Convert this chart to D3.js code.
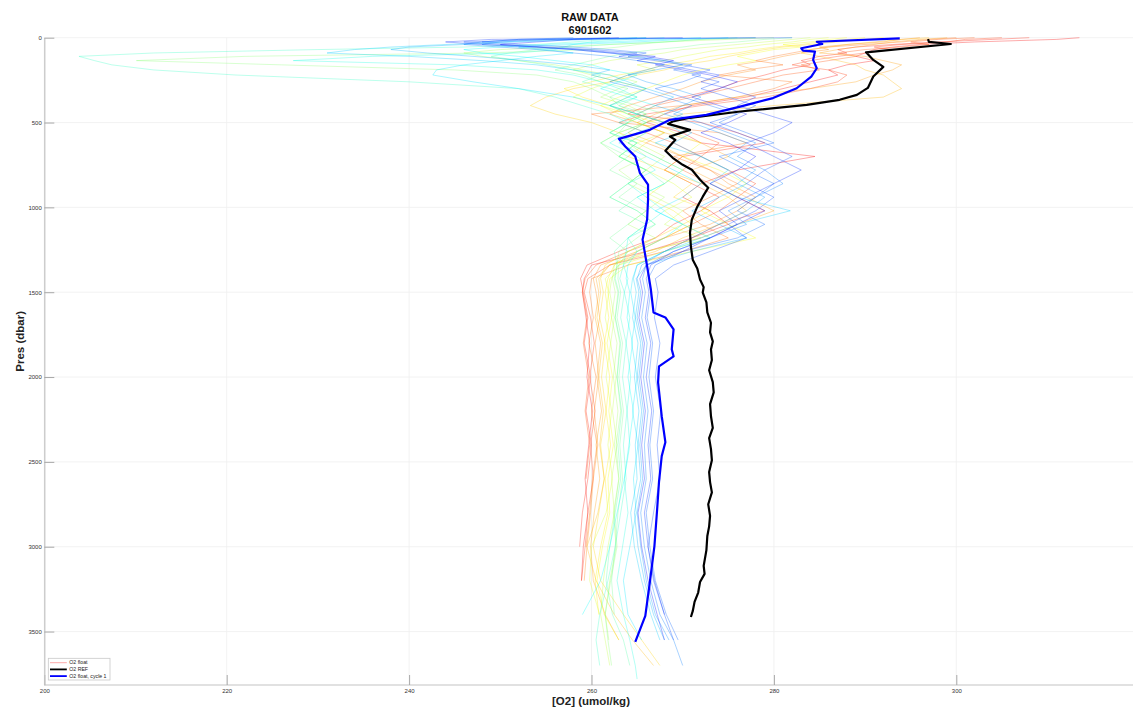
<!DOCTYPE html>
<html>
<head>
<meta charset="utf-8">
<script src="https://cdn.jsdelivr.net/npm/d3@7"></script>
<style>
  html, body { margin: 0; padding: 0; background: #ffffff; }
  svg { display: block; font-family: "Liberation Sans", Arial, Helvetica, sans-serif; }
</style>
</head>
<body>
<svg id="chart" width="1133" height="712"></svg>
<script>
// ---- Titles and labels ----
const titleLines = ["RAW DATA", "6901602"];
const xLabel = "[O2] (umol/kg)";
const yLabel = "Pres (dbar)";
const legendLabels = ["O2 float", "O2 REF", "O2 float, cycle 1"];

// ---- Axis ticks ----
const xTicks = [200, 220, 240, 260, 280, 300];
const yTicks = [0, 500, 1000, 1500, 2000, 2500, 3000, 3500];

// ---- Common pressure levels (dbar) for the float profiles ----
const pressure = [0, 10, 25, 40, 55, 70, 90, 110, 135, 160,
  190, 220, 260, 300, 350, 400, 450, 500, 560, 620,
  700, 780, 860, 940, 1020, 1100, 1180, 1260, 1340, 1420,
  1500, 1650, 1800, 2000, 2200, 2400, 2600, 2800, 3000, 3200,
  3400, 3550, 3700, 3780];

// ---- Float O2 profiles (umol/kg) on the pressure levels above ----
const prof01 = [313.5, 311, 302, 296, 293, 291, 290, 289, 291, 288,
  286, 287, 284, 281, 277, 271, 268, 266, 270, 272,
  284.5, 276, 272, 270, 273, 275, 271, 266, 260, 259.2,
  259.0, 259.4, 259.8, 259.5, 260.1, 259.7, 259.3, 259.6, 259.1, 258.9];
const prof02 = [308, 304, 298, 293, 289, 287, 288, 285, 283, 284,
  281, 279, 276, 274, 270, 266, 264, 272, 276, 279,
  270, 268, 271, 274, 272, 269, 267, 263, 259.5, 258.8,
  259.1, 259.6, 259.2, 259.9, 259.4, 260.0, 259.6, 259.0, 258.7];
const prof03 = [305, 301, 299, 294, 291, 293, 290, 287, 284, 282,
  286, 288, 287, 284, 279, 272, 266, 263, 266, 269,
  272, 275, 278, 276, 279, 274, 271, 268, 262, 259.6,
  259.2, 259.9, 260.3, 259.8, 260.4, 259.9, 260.2, 259.6, 259.3, 258.9];
const prof04 = [302, 298, 295, 297, 294, 290, 287, 289, 286, 283,
  285, 281, 278, 275, 271, 267, 265, 268, 271, 274,
  272, 270, 273, 276, 274, 271, 268, 264, 260.5, 259.3,
  259.0, 259.5, 259.1, 259.7, 259.3, 259.8, 259.4];
const prof05 = [300, 297, 294, 290, 286, 284, 282, 280, 278, 281,
  277, 274, 282, 280, 276, 270, 260, 263, 274, 277,
  269, 273, 276, 273, 270, 272, 275, 270, 264, 260,
  259.8, 260.2, 259.7, 260.5, 260.0, 260.6, 260.1, 259.8, 259.4];
const prof06 = [296, 294, 292, 288, 285, 286, 283, 281, 279, 276,
  278, 275, 272, 270, 267, 264, 262, 265, 268, 266,
  270, 273, 275, 278, 276, 273, 268, 265, 261, 260.2,
  260.5, 260.9, 260.4, 260.8, 260.3, 260.7, 260.2, 259.9, 259.5, 259.2];
const prof07 = [299, 296, 293, 291, 289, 287, 285, 290, 292, 294,
  293, 291, 289, 284, 276, 270, 267, 265, 268, 272,
  275, 271, 274, 277, 280, 276, 272, 266, 262, 260.5,
  260.8, 260.4, 261.0, 260.6, 261.1, 260.5, 260.9, 260.3, 259.9, 260.2,
  261.5, 263.0];
const prof08 = [297, 294, 291, 288, 286, 284, 283, 285, 287, 289,
  290, 292, 293, 294, 292, 280, 270, 266, 264, 267,
  270, 268, 272, 275, 277, 274, 270, 267, 262, 260.8,
  261.0, 260.6, 261.2, 260.8, 261.3, 260.9, 261.4, 260.7, 259.5, 260.5,
  262.5, 264.5, 266.8];
const prof09 = [292, 290, 287, 284, 281, 279, 277, 275, 273, 270,
  268, 265, 262, 258, 255, 253.3, 256, 260, 263, 266,
  264, 268, 271, 269, 273, 270, 267, 264, 261.5, 261.0,
  261.3, 260.9, 261.5, 261.1, 261.6, 261.0, 261.4, 260.8, 260.2, 261.0,
  263.5, 265.5, 267.5];
const prof10 = [290, 288, 285, 283, 280, 278, 276, 273, 271, 268,
  266, 263, 260, 257, 259, 262, 265, 268, 266, 264,
  267, 270, 268, 266, 269, 271, 268, 265, 262.5, 261.8,
  261.5, 261.9, 261.4, 262.0, 261.6, 262.1, 261.5, 261.8, 261.0, 260.4,
  260.8];
const prof11 = [288, 286, 284, 281, 283, 280, 278, 276, 278, 275,
  272, 270, 268, 266, 263, 261, 264, 267, 269, 272,
  270, 274, 277, 275, 272, 275, 278, 271, 264, 262,
  261.8, 262.2, 261.7, 262.3, 261.9, 262.4, 261.8, 262.0, 261.2, 260.6,
  261.4, 263.0];
const prof12 = [286, 284, 282, 279, 277, 274, 272, 270, 268, 265,
  267, 264, 262, 260, 258, 261, 263, 265, 268, 265,
  263, 266, 269, 271, 268, 270, 273, 268, 263, 261.5,
  261.9, 261.5, 262.1, 261.6, 262.2, 261.8, 262.3, 261.6, 260.0, 259.8,
  260.9];
const prof13 = [284, 282, 279, 276, 273, 270, 268, 265, 262, 260,
  258, 260, 263, 266, 264, 262, 264, 266, 263, 265,
  268, 266, 264, 267, 270, 268, 272, 266, 263, 262.2,
  262.0, 262.5, 262.1, 262.7, 262.3, 262.8, 262.2, 262.5, 261.8, 261.3,
  261.0, 261.5, 262.0];
const prof14 = [280, 275, 268, 262, 256, 250, 246, 248, 252, 256,
  259, 262, 265, 263, 261, 264, 266, 264, 262, 264,
  266, 263, 265, 268, 266, 264, 267, 264, 262.5, 262.3,
  262.6, 262.2, 262.8, 262.4, 262.9, 262.5, 263.0, 262.4, 262.7, 262.0,
  261.5, 261.9];
const prof15 = [278, 272, 268, 265, 263, 260, 248, 222, 210.1, 226,
  245, 254, 258, 260, 262, 263, 265, 264, 263, 261,
  263, 266, 264, 262, 265, 267, 265, 263, 262.8, 262.5,
  262.9, 262.6, 263.1, 262.8, 263.2, 262.7, 263.0, 262.5, 262.8, 262.1,
  261.5, 261.8, 262.2];
const prof16 = [282, 279, 276, 272, 270, 267, 264, 262, 260, 258,
  256, 259, 261, 264, 262, 265, 268, 266, 263, 261,
  264, 262, 265, 263, 266, 264, 262, 264, 263.0, 262.9,
  263.2, 262.8, 263.4, 263.0, 263.5, 263.1, 263.4, 262.9, 262.6, 262.2,
  262.5];
const prof17 = [276, 272, 268, 262, 258, 254, 251, 249, 252, 255,
  258, 261, 259, 262, 265, 263, 266, 264, 262, 265,
  263, 266, 268, 265, 263, 266, 264, 262.5, 262.8, 262.6,
  263.0, 262.6, 263.2, 262.8, 263.3, 262.9, 263.2, 262.6, 262.0, 261.6,
  262.3, 263.5, 264.2];
const prof18 = [266, 262, 258, 254, 246, 230, 212, 203.8, 205.5, 207.4,
  212, 221, 240, 252, 256, 259, 262, 264, 262, 265,
  263, 266, 264, 262, 265, 267, 264, 265, 263.5, 263.1,
  263.6, 263.2, 263.8, 263.4, 263.9, 263.5, 263.8, 263.2, 262.6, 261.8,
  260.9, 260.5, 260.9];
const prof19 = [268, 264, 260, 258, 257, 256, 252, 236, 227.3, 245,
  254, 258, 261, 263, 265, 262, 264, 266, 264, 262,
  265, 267, 264, 266, 268, 266, 264, 263.8, 263.5, 264.0,
  263.6, 264.2, 263.8, 264.3, 263.9, 264.2, 263.6, 264.0, 263.4, 262.8,
  263.5, 264.2, 264.8, 265.0];
const prof20 = [272, 268, 262, 255, 250, 246, 248, 252, 256, 260,
  262, 265, 263, 261, 264, 267, 265, 263, 266, 264,
  267, 270, 268, 265, 267, 270, 268, 265, 264.0, 263.8,
  264.2, 263.9, 264.5, 264.0, 264.6, 264.1, 263.6, 262.8, 262.0, 261.0,
  259.0];
const prof21 = [275, 270, 265, 258, 252, 255, 258, 254, 250, 246,
  243, 242.6, 247, 252, 258, 262, 265, 268, 265, 263,
  266, 269, 272, 270, 267, 270, 273, 268, 265, 264.5,
  264.3, 264.8, 264.4, 265.0, 264.5, 265.1, 264.6, 264.9, 264.2, 263.5,
  264.0, 265.5];
const prof22 = [265, 258, 250, 244, 238, 234, 231, 240, 248, 254,
  258, 262, 264, 266, 264, 262, 265, 268, 270, 267,
  272, 275, 273, 276, 281.8, 276, 272, 268, 265, 264.6,
  264.9, 264.5, 265.1, 264.7, 265.2, 264.8, 265.0, 264.3, 264.7, 265.5,
  266.5, 267.5];
const prof23 = [266, 260, 252, 246, 240, 238, 242, 247, 253, 258,
  262, 260, 263, 266, 269, 267, 270, 268, 271, 269,
  272, 275, 277, 274, 271, 274, 277, 271, 266, 264.9,
  265.2, 264.8, 265.4, 265.0, 265.5, 265.1, 265.4, 264.7, 265.1, 265.8,
  266.8, 268.0];
const prof24 = [262, 255, 250, 248, 252, 258, 262, 265, 268, 270,
  267, 264, 266, 269, 272, 270, 268, 271, 274, 277,
  275, 278, 276, 279, 277, 274, 271, 268, 265.5, 265.0,
  265.4, 265.0, 265.6, 265.2, 265.7, 265.3, 265.6, 265.0, 265.4, 266.0,
  267.0, 268.5];
const prof25 = [258, 252, 248, 246, 250, 254, 258, 262, 265, 268,
  266, 264, 262, 265, 268, 271, 269, 272, 275, 278,
  276, 279, 281, 278, 275, 277, 273, 269, 266, 265.6,
  265.9, 265.5, 266.1, 265.7, 266.2, 265.8, 266.0, 265.4, 265.8, 266.5,
  267.5, 269.0, 270.0];
const prof26 = [278, 252, 248, 252, 258, 262, 266, 264, 268, 271,
  269, 272, 270, 267, 270, 273, 276, 274, 277, 280,
  274, 277, 280, 278, 276, 279, 276, 270, 267, 266.2,
  266.5, 266.1, 266.7, 266.3, 266.8, 266.4, 266.7, 266.0, 266.4, 267.0,
  268.2, 269.5];
const prof27 = [282, 256, 246, 250, 255, 260, 265, 263, 267, 270,
  273, 271, 274, 272, 275, 278, 276, 273, 276, 279,
  282, 279, 277, 280, 278, 275, 277, 273, 269, 267.0,
  267.3, 266.9, 267.5, 267.0, 267.6, 267.2, 267.5, 266.8, 266.2, 266.8,
  268.0, 269.0];
const prof28 = [270, 249, 244, 248, 254, 259, 263, 267, 265, 268,
  271, 274, 272, 275, 278, 276, 279, 282, 280, 277,
  280, 283, 280, 277, 274, 276, 273, 269, 266.5, 266.0,
  266.3, 265.9, 266.5, 266.0, 266.6, 266.2, 266.5, 265.8, 266.2, 266.9,
  268.0];
const prof29 = [263, 258, 254, 250, 254, 258, 262, 266, 269, 267,
  270, 273, 276, 274, 271, 274, 277, 275, 272, 275,
  278, 276, 273, 276, 279, 276, 273, 270, 266, 265.3,
  265.6, 265.2, 265.8, 265.4, 265.9, 265.5, 265.8, 265.1, 265.5, 266.2,
  267.2, 268.0];

const floatProfiles = [prof01, prof02, prof03, prof04, prof05, prof06, prof07, prof08,
  prof09, prof10, prof11, prof12, prof13, prof14, prof15, prof16, prof17, prof18,
  prof19, prof20, prof21, prof22, prof23, prof24, prof25, prof26, prof27, prof28, prof29];

// ---- Reference profile ----
const refPres = [8, 25, 37, 86, 131, 172, 229, 296, 337, 366,
  396, 435, 472, 494, 508, 543, 582, 602, 666, 708,
  749, 778, 837, 884, 937, 996, 1072, 1149, 1231, 1308,
  1360, 1425, 1470, 1502, 1560, 1619, 1680, 1737, 1790, 1837,
  1900, 1960, 2030, 2090, 2160, 2231, 2300, 2360, 2425, 2490,
  2560, 2619, 2680, 2750, 2818, 2880, 2937, 3020, 3113, 3160,
  3208, 3270, 3325, 3380, 3414];
const refO2 = [296.9, 297.0, 299.4, 290.1, 290.9, 292.0, 290.9, 290.3, 289.1, 287.2,
  283.6, 276.3, 270.8, 268.9, 268.4, 270.8, 268.6, 269.2, 268.1, 268.9,
  270.0, 271.0, 271.9, 272.8, 272.2, 271.6, 271.0, 270.8, 270.9, 271.1,
  271.6, 271.9, 272.3, 272.2, 272.6, 272.7, 273.1, 273.0, 273.3, 273.1,
  273.2, 272.9, 273.3, 273.4, 273.0, 273.1, 273.3, 272.9, 273.1, 273.2,
  272.9, 273.0, 273.2, 272.8, 273.0, 272.9, 272.7, 272.6, 272.3, 272.4,
  271.9, 271.7, 271.3, 271.1, 270.9];

// ---- Float cycle 1 ----
const cyc1Pres = [4, 24, 37, 62, 76, 82, 131, 180, 229, 298,
  356, 406, 455, 484, 543, 561, 596, 641, 700, 796,
  866, 955, 1072, 1190, 1347, 1480, 1619, 1649, 1719, 1837,
  1878, 1937, 2031, 2231, 2384, 2466, 2619, 2778, 2996, 3208,
  3408, 3561];
const cyc1O2 = [293.8, 284.7, 285.3, 283.0, 283.2, 284.5, 284.3, 284.7, 284.1, 282.5,
  279.9, 276.3, 272.6, 268.6, 266.4, 265.3, 263.0, 263.7, 264.8, 265.3,
  266.2, 266.2, 266.1, 265.6, 266.1, 266.5, 266.8, 268.1, 269.0, 268.8,
  269.0, 267.4, 267.3, 267.7, 268.1, 267.7, 267.4, 267.2, 266.9, 266.4,
  265.9, 264.8];

// ---- Layout ----
const W = 1133, H = 712;
const plot = { left: 44.3, right: 1138.7, top: 37.7, bottom: 685 };

const svg = d3.select("#chart");

const x = d3.scaleLinear().domain([200, 320]).range([plot.left, plot.right]);
const y = d3.scaleLinear().domain([0, 3815]).range([plot.top, plot.bottom]);

// jet colour map
const jet = d3.scaleLinear()
  .domain([0, 0.125, 0.375, 0.625, 0.875, 1])
  .range(["#00008f", "#0000ff", "#00ffff", "#ffff00", "#ff0000", "#800000"])
  .interpolate(d3.interpolateRgb);
const nProf = floatProfiles.length;
const profColor = i => jet(0.88 - i * (0.74 / (nProf - 1)));

// grid
const grid = svg.append("g").attr("class", "grid");
grid.selectAll("line.vx").data(xTicks).join("line")
  .attr("x1", d => x(d)).attr("x2", d => x(d))
  .attr("y1", plot.top).attr("y2", plot.bottom)
  .attr("stroke", "#efefef").attr("stroke-width", 0.8);
grid.selectAll("line.hy").data(yTicks).join("line")
  .attr("x1", plot.left).attr("x2", W)
  .attr("y1", d => y(d)).attr("y2", d => y(d))
  .attr("stroke", "#efefef").attr("stroke-width", 0.8);

// profiles
const line = d3.line().x(d => x(d[1])).y(d => y(d[0]));
const gLines = svg.append("g").attr("class", "profiles");
floatProfiles.forEach((vals, i) => {
  const pts = vals.map((v, k) => [pressure[k], v]);
  gLines.append("path")
    .datum(pts)
    .attr("d", line)
    .attr("fill", "none")
    .attr("stroke", profColor(i))
    .attr("stroke-opacity", 0.42)
    .attr("stroke-width", 0.8)
    .attr("stroke-linejoin", "round");
});

// reference profile
svg.append("path")
  .datum(refPres.map((p, k) => [p, refO2[k]]))
  .attr("d", line)
  .attr("fill", "none")
  .attr("stroke", "#000000")
  .attr("stroke-width", 2.2)
  .attr("stroke-linejoin", "round");

// cycle 1
svg.append("path")
  .datum(cyc1Pres.map((p, k) => [p, cyc1O2[k]]))
  .attr("d", line)
  .attr("fill", "none")
  .attr("stroke", "#0000ff")
  .attr("stroke-width", 2.2)
  .attr("stroke-linejoin", "round");

// axes
const tickFmt = d3.format("d");
const xAxis = svg.append("g")
  .attr("transform", `translate(0,${plot.bottom})`)
  .call(d3.axisBottom(x).tickValues(xTicks).tickFormat(tickFmt)
    .tickSizeInner(-10).tickSizeOuter(0).tickPadding(3.5));
const yAxis = svg.append("g")
  .attr("transform", `translate(${plot.left},0)`)
  .call(d3.axisLeft(y).tickValues(yTicks).tickFormat(tickFmt)
    .tickSizeInner(-10).tickSizeOuter(0).tickPadding(2.5));
[xAxis, yAxis].forEach(g => {
  g.select(".domain").attr("stroke", "#c4c4c4").attr("stroke-width", 1.2);
  g.selectAll(".tick line").attr("stroke", "#a8a8a8").attr("stroke-width", 1);
  g.selectAll(".tick text").attr("fill", "#333333").attr("font-size", 6)
    .attr("font-family", "'Liberation Sans', Arial, sans-serif");
});
xAxis.select(".domain").attr("d", `M${plot.left},0H${W}`);

// titles
svg.append("text").attr("x", 590).attr("y", 20.5).attr("text-anchor", "middle")
  .attr("font-size", 11).attr("font-weight", "bold").attr("fill", "#111")
  .text(titleLines[0]);
svg.append("text").attr("x", 590).attr("y", 34.3).attr("text-anchor", "middle")
  .attr("font-size", 11).attr("font-weight", "bold").attr("fill", "#111")
  .text(titleLines[1]);

// axis labels
svg.append("text").attr("x", 591).attr("y", 705).attr("text-anchor", "middle")
  .attr("font-size", 11.5).attr("font-weight", "bold").attr("fill", "#222")
  .text(xLabel);
svg.append("text")
  .attr("transform", `translate(24,${(plot.top + plot.bottom) / 2 - 20}) rotate(-90)`)
  .attr("text-anchor", "middle")
  .attr("font-size", 11.5).attr("font-weight", "bold").attr("fill", "#222")
  .text(yLabel);

// legend
const lg = svg.append("g").attr("transform", "translate(48.3,658.3)");
lg.append("rect").attr("width", 61.7).attr("height", 21.7)
  .attr("fill", "#ffffff").attr("stroke", "#c8c8c8").attr("stroke-width", 0.8);
const legendStyles = [
  { color: jet(0.88), opacity: 0.42, width: 0.8 },
  { color: "#000000", opacity: 1, width: 1.8 },
  { color: "#0000ff", opacity: 1, width: 1.8 }
];
legendLabels.forEach((lab, i) => {
  const yy = 4.4 + i * 6.7;
  lg.append("line").attr("x1", 1.7).attr("x2", 18.5).attr("y1", yy).attr("y2", yy)
    .attr("stroke", legendStyles[i].color)
    .attr("stroke-opacity", legendStyles[i].opacity)
    .attr("stroke-width", legendStyles[i].width);
  lg.append("text").attr("x", 21).attr("y", yy + 1.8)
    .attr("font-size", 5.2).attr("fill", "#222").text(lab);
});
</script>
</body>
</html>
